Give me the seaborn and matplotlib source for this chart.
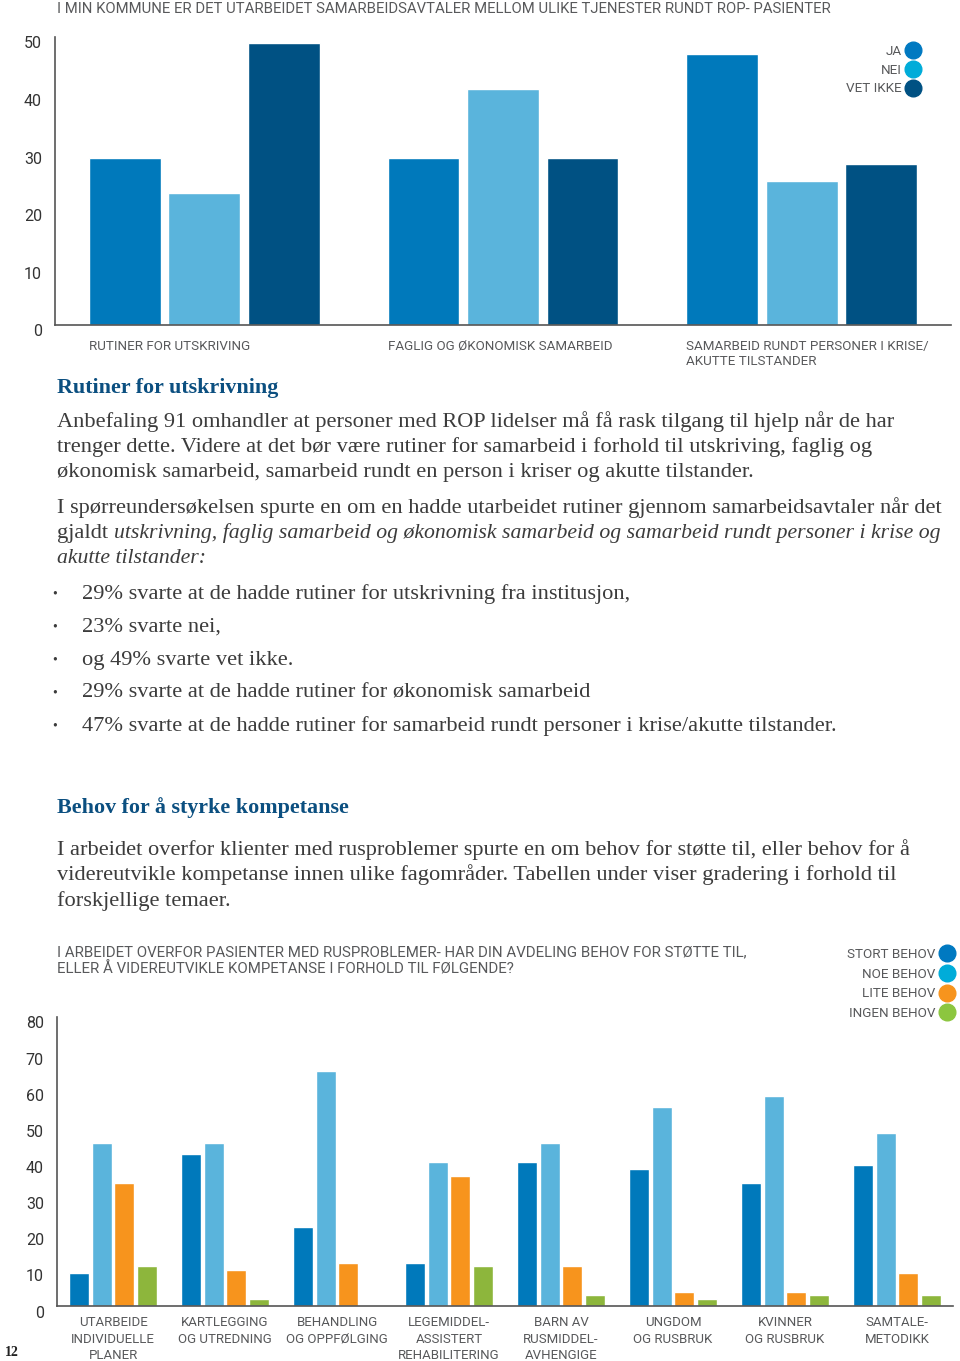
import matplotlib
matplotlib.use('Agg')
import matplotlib.pyplot as plt
from matplotlib.lines import Line2D
from matplotlib.text import Annotation
from matplotlib.transforms import ScaledTranslation
import seaborn as sns
import pandas as pd

W, H = 960, 1361

# --- data, chart 1 ---
kategorier1 = ['RUTINER FOR UTSKRIVING', 'FAGLIG OG ØKONOMISK SAMARBEID',
               'SAMARBEID RUNDT PERSONER I KRISE/\nAKUTTE TILSTANDER']
svar1 = ['JA', 'NEI', 'VET IKKE']
ja = [29, 29, 47]
nei = [23, 41, 25]
vet_ikke = [49, 29, 28]

# --- data, chart 2 ---
kategorier2 = ['UTARBEIDE\nINDIVIDUELLE\nPLANER', 'KARTLEGGING\nOG UTREDNING',
               'BEHANDLING\nOG OPPFØLGING', 'LEGEMIDDEL-\nASSISTERT\nREHABILITERING',
               'BARN AV\nRUSMIDDEL-\nAVHENGIGE', 'UNGDOM\nOG RUSBRUK',
               'KVINNER\nOG RUSBRUK', 'SAMTALE-\nMETODIKK']
behov = ['STORT BEHOV', 'NOE BEHOV', 'LITE BEHOV', 'INGEN BEHOV']
stort = [9, 42, 22, 12, 40, 38, 34, 39]
noe = [45, 45, 65, 40, 45, 55, 58, 48]
lite = [34, 10, 12, 36, 11, 4, 4, 9]
ingen = [11, 2, 0, 11, 3, 2, 3, 3]

farger1 = ['#0079bb', '#5ab4dc', '#005183']
prikker1 = ['#0079c1', '#00acd9', '#005183']
farger2 = ['#0079bb', '#5ab4dc', '#f7941d', '#8db63c']
prikker2 = ['#0079c1', '#00acd9', '#f7941d', '#8cc63f']

GRAA = '#58595b'
TEKST = '#3c3c3c'
BLAA = '#0b4f80'
SANS = ['Roboto', 'DejaVu Sans']
SERIF = ['Liberation Serif', 'DejaVu Serif']
BODY = 16.1
KURSIV = 15.7

sns.set_style('white')
plt.rcParams['font.family'] = SANS


def fx(x):
    return x / W


def fy(y):
    return 1 - y / H


def rect(x0, y0, x1, y1):
    return [fx(x0), fy(y1), (x1 - x0) / W, (y1 - y0) / H]


df1 = pd.DataFrame({
    'kategori': kategorier1 * 3,
    'svar': [s for s in svar1 for _ in kategorier1],
    'verdi': ja + nei + vet_ikke,
})
df2 = pd.DataFrame({
    'kategori': kategorier2 * 4,
    'behov': [b for b in behov for _ in kategorier2],
    'verdi': stort + noe + lite + ingen,
})

fig = plt.figure(figsize=(W / 100, H / 100), dpi=100)


def style_axes(ax, ymax, step, n, pad):
    ax.set_xlim(-0.5, n - 0.5)
    ax.set_ylim(0, ymax)
    ax.set_yticks(range(0, ymax + 1, step))
    sns.despine(ax=ax)
    for s in ('left', 'bottom'):
        ax.spines[s].set_color('#555555')
        ax.spines[s].set_linewidth(1.2)
    ax.tick_params(axis='y', direction='in', length=16.5, width=1.2,
                   color='#555555', labelsize=11.5, labelcolor='#333333', pad=pad)
    ax.set_xticks([i + 0.5 for i in range(n)], minor=True)
    ax.tick_params(axis='x', which='minor', direction='in', length=5,
                   width=1.2, color='#555555')
    ax.tick_params(axis='x', which='major', length=0)
    ax.set_xlabel('')
    ax.set_ylabel('')
    off = ScaledTranslation(0, -5.5 / 100, fig.dpi_scale_trans)
    for lab in ax.get_yticklabels():
        lab.set_transform(lab.get_transform() + off)


def body(y, s, x=57, **kw):
    return fig.text(fx(x), fy(y), s, family=SERIF, fontsize=kw.pop('fontsize', BODY),
                    color=TEKST, ha='left', va='center', **kw)


# --- chart 1 ---
ax1 = fig.add_axes(rect(55, 37, 951, 325))
sns.barplot(data=df1, x='kategori', y='verdi', hue='svar', hue_order=svar1,
            palette=farger1, saturation=1, width=0.8, gap=0.1, legend=False, ax=ax1)
style_axes(ax1, 50, 10, 3, 9.4)
ax1.set_xticks(range(3))
ax1.set_xticklabels([''] * 3)
for i, k in enumerate(kategorier1):
    ax1.text(i - 0.386, -15 / 288, k, transform=ax1.get_xaxis_transform(),
             ha='left', va='top', fontsize=9.6, color=GRAA, linespacing=1.2)

fig.text(fx(57), fy(9), 'I MIN KOMMUNE ER DET UTARBEIDET SAMARBEIDSAVTALER MELLOM ULIKE '
         'TJENESTER RUNDT ROP- PASIENTER', ha='left', va='center', fontsize=10.7, color=GRAA)

h1 = [Line2D([], [], ls='', marker='o', ms=12, mfc=c, mec=c) for c in prikker1]
fig.legend(h1, svar1, loc='upper right', bbox_to_anchor=(fx(919), fy(45)),
           frameon=False, markerfirst=False, handlelength=0.9, handletextpad=0.4,
           labelspacing=0.42, borderpad=0, borderaxespad=0, fontsize=9.7,
           labelcolor=GRAA)

# --- body text ---
fig.text(fx(57), fy(388), 'Rutiner for utskrivning', family=SERIF, weight='bold',
         fontsize=15.8, color=BLAA, ha='left', va='center')

avsnitt1 = ['Anbefaling 91 omhandler at personer med ROP lidelser må få rask tilgang til hjelp når de har',
            'trenger dette. Videre at det bør være rutiner for samarbeid i forhold til utskriving, faglig og',
            'økonomisk samarbeid, samarbeid rundt en person i kriser og akutte tilstander.']
for y, linje in zip([422, 447, 472], avsnitt1):
    body(y, linje)

body(508, 'I spørreundersøkelsen spurte en om en hadde utarbeidet rutiner '
     'gjennom samarbeidsavtaler når det')
t = body(533, 'gjaldt ')
fig.add_artist(Annotation(
    'utskrivning, faglig samarbeid og økonomisk samarbeid og samarbeid rundt '
    'personer i krise og', xy=(1, 0), xycoords=t, va='bottom', ha='left',
    family=SERIF, style='italic', fontsize=KURSIV, color=TEKST))
body(558, 'akutte tilstander:', style='italic', fontsize=KURSIV)

punkter = ['29% svarte at de hadde rutiner for utskrivning fra institusjon,',
           '23% svarte nei,',
           'og 49% svarte vet ikke.',
           '29% svarte at de hadde rutiner for økonomisk samarbeid',
           '47% svarte at de hadde rutiner for samarbeid rundt personer i krise/akutte tilstander.']
for y, p in zip([594, 627, 660, 693, 726], punkter):
    fig.text(fx(52), fy(y), '•', family=SERIF, fontsize=10, color=TEKST,
             ha='left', va='center')
    body(y, p, x=82)

fig.text(fx(57), fy(808), 'Behov for å styrke kompetanse', family=SERIF, weight='bold',
         fontsize=15.8, color=BLAA, ha='left', va='center')
avsnitt2 = ['I arbeidet overfor klienter med rusproblemer spurte en om behov for støtte til, eller behov for å',
            'videreutvikle kompetanse innen ulike fagområder. Tabellen under viser gradering i forhold til',
            'forskjellige temaer.']
for y, linje in zip([850, 875, 901], avsnitt2):
    body(y, linje)

# --- chart 2 ---
fig.text(fx(57), fy(952), 'I ARBEIDET OVERFOR PASIENTER MED RUSPROBLEMER- HAR DIN AVDELING '
         'BEHOV FOR STØTTE TIL,', ha='left', va='center', fontsize=10.8, color=GRAA)
fig.text(fx(57), fy(969), 'ELLER Å VIDEREUTVIKLE KOMPETANSE I FORHOLD TIL FØLGENDE?',
         ha='left', va='center', fontsize=10.8, color=GRAA)

ax2 = fig.add_axes(rect(57, 1017, 953, 1306))
sns.barplot(data=df2, x='kategori', y='verdi', hue='behov', hue_order=behov,
            palette=farger2, saturation=1, width=0.8, gap=0.1, legend=False, ax=ax2)
style_axes(ax2, 80, 10, 8, 9.4)
ax2.set_xticks(range(8))
ax2.set_xticklabels(kategorier2, fontsize=9.5, color=GRAA, linespacing=1.33)
ax2.tick_params(axis='x', which='major', pad=7.5)

h2 = [Line2D([], [], ls='', marker='o', ms=12, mfc=c, mec=c) for c in prikker2]
fig.legend(h2, behov, loc='upper right', bbox_to_anchor=(fx(953), fy(948)),
           frameon=False, markerfirst=False, handlelength=0.9, handletextpad=0.4,
           labelspacing=0.5, borderpad=0, borderaxespad=0, fontsize=9.7,
           labelcolor=GRAA)

fig.text(fx(5), fy(1353), '12', family=SERIF, weight='bold', fontsize=10,
         color='#222222', ha='left', va='center')

fig.savefig('out.png', dpi=100, facecolor='white')
